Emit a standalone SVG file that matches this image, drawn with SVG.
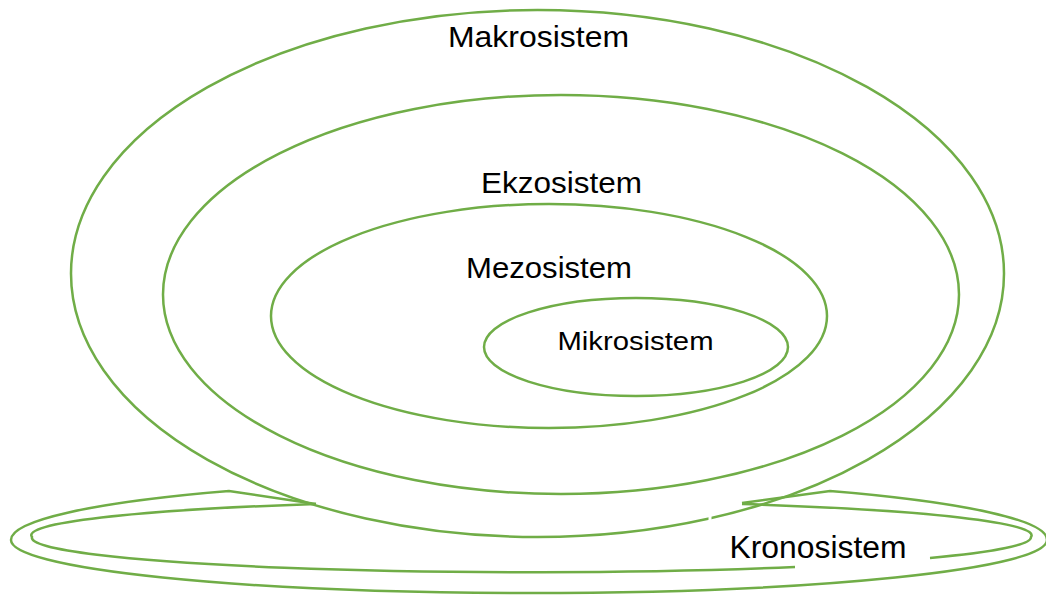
<svg xmlns="http://www.w3.org/2000/svg" width="1046" height="595" viewBox="0 0 1046 595">
  <style>
    .ring { fill: none; stroke: #70AD47; stroke-width: 2.5; }
    .label { font-family: "Liberation Sans", Arial, sans-serif; fill: #000; }
  </style>
  <rect width="1046" height="595" fill="#fff"/>

  <!-- time band under the nested systems -->
  <g id="kronosistem-band">
    <path class="ring" d="M 316,504 L 229,491 A 518 60 0 0 0 11,540 A 518 53 0 0 0 529,593 A 518 53 0 0 0 1047,540 A 518 60 0 0 0 830,491 L 742,503"/>
    <path class="ring" d="M 795,567 A 499.5 34.5 0 0 1 32,537 A 499.5 34.5 0 0 1 316,504"/>
    <path class="ring" d="M 742,504 A 499.5 34.5 0 0 1 1031,537 A 499.5 34.5 0 0 1 930,558"/>
  </g>

  <g id="makrosistem">
    <ellipse class="ring" cx="537.5" cy="273.5" rx="466.5" ry="263.5"/>
    <line x1="710" y1="513" x2="710" y2="522" stroke="#fff" stroke-width="3"/>
    <text class="label" x="448" y="47" font-size="30" textLength="181" lengthAdjust="spacingAndGlyphs">Makrosistem</text>
  </g>

  <g id="ekzosistem">
    <ellipse class="ring" cx="561" cy="294.5" rx="398" ry="199.5"/>
    <text class="label" x="481" y="193" font-size="30" textLength="161" lengthAdjust="spacingAndGlyphs">Ekzosistem</text>
  </g>

  <g id="mezosistem">
    <ellipse class="ring" cx="549" cy="316" rx="278" ry="112"/>
    <text class="label" x="466" y="278" font-size="30" textLength="166" lengthAdjust="spacingAndGlyphs">Mezosistem</text>
  </g>

  <g id="mikrosistem">
    <ellipse class="ring" cx="636" cy="347" rx="152" ry="49"/>
    <text class="label" x="557.5" y="350" font-size="25" textLength="156" lengthAdjust="spacingAndGlyphs">Mikrosistem</text>
  </g>

  <g id="kronosistem-label">
    <text class="label" x="729.5" y="558" font-size="31" textLength="177" lengthAdjust="spacingAndGlyphs">Kronosistem</text>
  </g>
</svg>
